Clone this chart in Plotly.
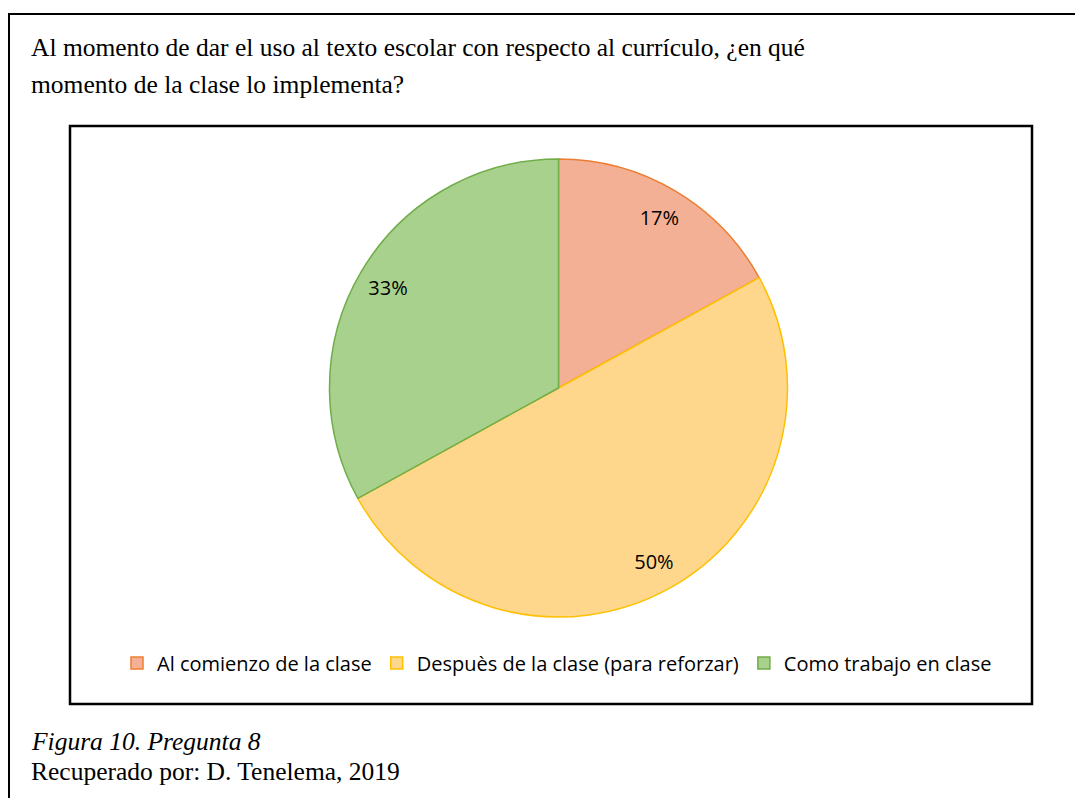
import plotly.graph_objects as go

categories = ["Al comienzo de la clase", "Despuès de la clase (para reforzar)", "Como trabajo en clase"]
values = [17, 50, 33]
fill_colors = ["#F4B094", "#FED78D", "#A9D18E"]
line_colors = ["#ED7D31", "#FFC000", "#70AD47"]

title_lines = ["Al momento de dar el uso al texto escolar con respecto al currículo, ¿en qué",
               "momento de la clase lo implementa?"]
caption_lines = ["<i>Figura 10. Pregunta 8</i>", "Recuperado por: D. Tenelema, 2019"]

W, H = 1083, 798
OFF = 8  # page body margin


def px(x):
    return (x - OFF) / W


def py(y):
    return 1 - (y - OFF) / H


pie_domain = dict(x=[px(329), px(788)], y=[py(617), py(159)])

fig = go.Figure()
fig.add_trace(go.Pie(
    labels=categories,
    values=values,
    sort=False,
    direction="clockwise",
    rotation=0,
    marker=dict(colors=fill_colors, line=dict(color=line_colors, width=1.5)),
    textinfo="none",
    domain=pie_domain,
    hoverinfo="label+percent",
))
# transparent ring trace carrying the data labels near the outer edge
fig.add_trace(go.Pie(
    labels=categories,
    values=values,
    sort=False,
    direction="clockwise",
    rotation=0,
    hole=0.73,
    marker=dict(colors=["rgba(0,0,0,0)"] * 3, line=dict(width=0)),
    texttemplate="%{percent:.0%}",
    textposition="inside",
    insidetextorientation="horizontal",
    textfont=dict(family="Open Sans", size=20, color="#000000"),
    domain=pie_domain,
    showlegend=False,
    hoverinfo="skip",
))

shapes = [
    dict(type="rect", xref="paper", yref="paper", x0=px(9), x1=px(1100), y0=py(820), y1=py(14),
         line=dict(color="black", width=2), fillcolor="rgba(0,0,0,0)"),
    dict(type="rect", xref="paper", yref="paper", x0=px(70), x1=px(1032), y0=py(704), y1=py(126),
         line=dict(color="black", width=2.5), fillcolor="rgba(0,0,0,0)"),
]

serif = "Liberation Serif"
annotations = []
for text, yc in zip(title_lines, [47, 85]):
    annotations.append(dict(text=text, x=px(29), y=py(yc), xref="paper", yref="paper",
                            xanchor="left", yanchor="middle", align="left", showarrow=False,
                            font=dict(family=serif, size=25.5, color="black")))
for text, yc in zip(caption_lines, [741, 771]):
    annotations.append(dict(text=text, x=px(29), y=py(yc), xref="paper", yref="paper",
                            xanchor="left", yanchor="middle", align="left", showarrow=False,
                            font=dict(family=serif, size=25.5, color="black")))

fig.update_layout(
    width=W, height=H,
    margin=dict(l=0, r=0, t=0, b=0),
    paper_bgcolor="white",
    plot_bgcolor="white",
    shapes=shapes,
    annotations=annotations,
    showlegend=True,
    legend=dict(orientation="h", x=px(557), xanchor="center", y=py(663), yanchor="middle",
                font=dict(family="Open Sans", size=20, color="#000000"),
                itemwidth=30, tracegroupgap=0, bgcolor="rgba(0,0,0,0)"),
)

fig.write_html("out.html")
